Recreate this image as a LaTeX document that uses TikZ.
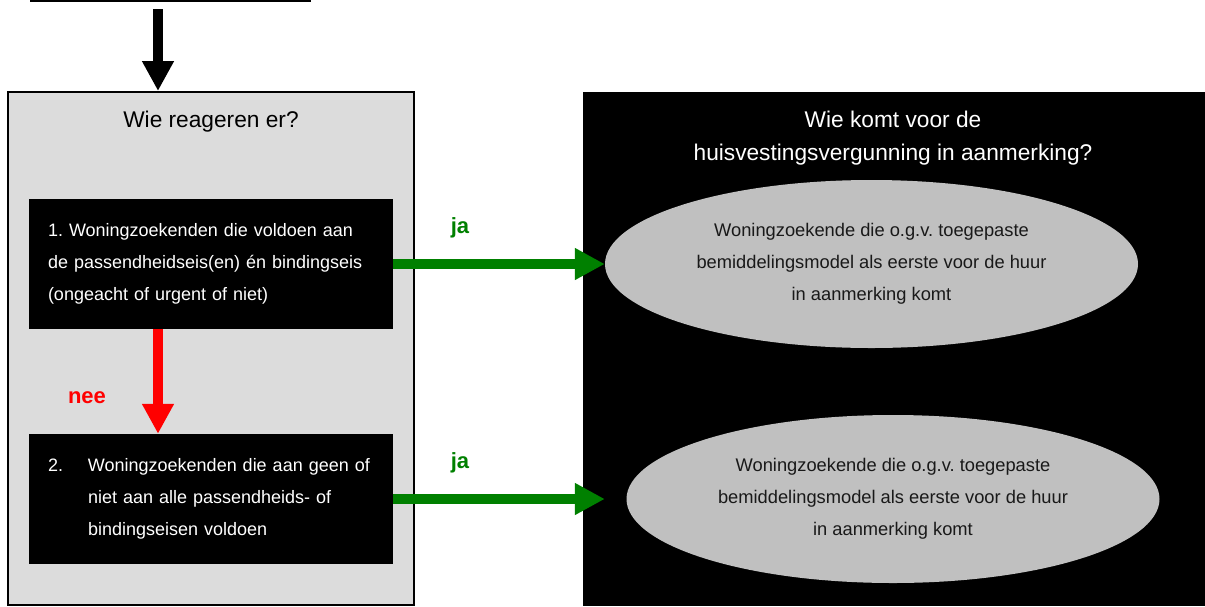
\documentclass[tikz,border=0pt]{standalone}
\usepackage{fontspec}
\setmainfont{Liberation Sans}
\usetikzlibrary{arrows.meta,shapes.geometric}
\definecolor{boxgray}{HTML}{DCDCDC}
\definecolor{ovalgray}{HTML}{C0C0C0}
\definecolor{jagreen}{HTML}{008000}
\frenchspacing
\begin{document}
\begin{tikzpicture}[x=1pt, y=-1pt,
    blok/.style={fill=black, text=white, minimum width=364pt, minimum height=130pt,
        inner sep=0pt, text width=326pt, align=left, font=\fontsize{18}{32}\selectfont},
    ovaal/.style={ellipse, fill=ovalgray, minimum width=533pt, minimum height=168pt,
        inner sep=0pt, align=center, text=black!90, font=\fontsize{18.3}{32}\selectfont},
    pijl/.style={line width=10pt, -{Triangle[width=30pt,length=30pt]}},
    kop/.style={font=\fontsize{22.7}{33}\selectfont, align=center},
    antw/.style={font=\fontsize{22}{25}\selectfont\bfseries}]
    \useasboundingbox (0,0) rectangle (1205,606);
    \node[draw, line width=2.5pt, minimum width=279pt, minimum height=62pt, inner sep=0pt] (bron) at (170.5,-30) {};
    \node[draw, line width=2pt, fill=boxgray, minimum width=406pt, minimum height=513pt] (reageren) at (211,348.5) {};
    \node[kop] (vraag) at (211,122) {Wie reageren er?};
    \node[blok] (blok1) at (211,264) {1. Woningzoekenden die voldoen aan\\de passendheidseis(en) én bindingseis\\(ongeacht of urgent of niet)};
    \node[blok] (blok2) at (211,499) {\makebox[40pt][l]{2.}Woningzoekenden die aan geen of\\\hspace*{40pt}niet aan alle passendheids- of\\\hspace*{40pt}bindingseisen voldoen};
    \node[fill=black, minimum width=622pt, minimum height=514pt] (komt) at (894,349) {};
    \node[kop, text=white] (titel) at (893,138.5) {Wie komt voor de\\huisvestingsvergunning in aanmerking?};
    \node[ovaal] (keus1) at (871.5,264) {Woningzoekende die o.g.v. toegepaste\\bemiddelingsmodel als eerste voor de huur\\in aanmerking komt};
    \node[ovaal] (keus2) at (893,499) {Woningzoekende die o.g.v. toegepaste\\bemiddelingsmodel als eerste voor de huur\\in aanmerking komt};
    \draw[pijl] ([xshift=-12.5pt,yshift=-7pt]bron.south) -- ([xshift=-53pt]reageren.north);
    \draw[pijl, red] ([xshift=-53pt]blok1.south) -- ([xshift=-53pt]blok2.north);
    \draw[pijl, jagreen] (blok1.east) -- (keus1.west);
    \draw[pijl, jagreen] (blok2.east) -- (blok2.east -| keus1.west);
    \node[antw, text=red] (nee) at (87,398) {nee};
    \node[antw, text=jagreen] (ja1) at (460,228) {ja};
    \node[antw, text=jagreen] (ja2) at (460,463) {ja};
\end{tikzpicture}
\end{document}
